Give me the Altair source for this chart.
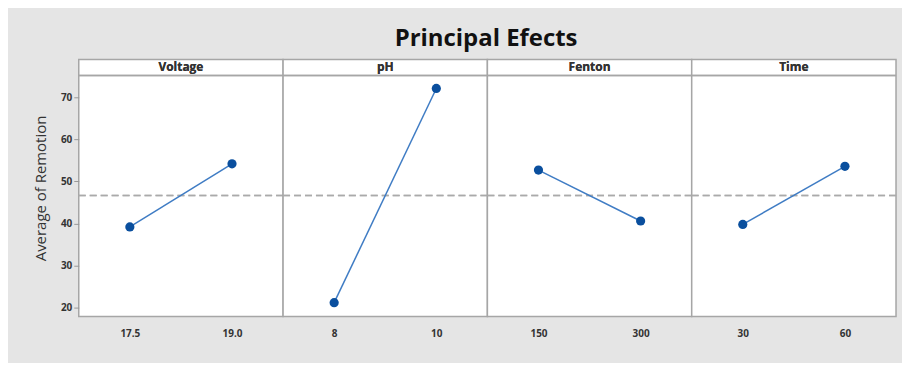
import altair as alt
import pandas as pd

factors = ["Voltage", "pH", "Fenton", "Time"]
levels = [["17.5", "19.0"], ["8", "10"], ["150", "300"], ["30", "60"]]
means = [[39.2, 54.2], [21.2, 72.1], [52.7, 40.6], [39.8, 53.6]]
grand_mean = 46.65
y_domain = [17.9, 79.0]
y_ticks = [20, 30, 40, 50, 60, 70]
header_line = 75.2
header_mid = 77.1

FONT = "Open Sans"
PW, PH = 205, 258

yaxis = alt.Axis(values=y_ticks, domain=False, grid=False, tickSize=5,
                 tickColor="#999999", labelFont=FONT, labelFontSize=10,
                 labelFontWeight="bold", labelColor="#333333",
                 labelPadding=2, titleFont=FONT, titleFontSize=15,
                 titleFontWeight="normal", titleColor="#333333",
                 titlePadding=12, title="Average of Remotion")

panels = []
for i, (f, lv, mv) in enumerate(zip(factors, levels, means)):
    df = pd.DataFrame({"level": lv, "mean": mv, "factor": [f, f]})
    base = alt.Chart(df)
    x = alt.X("level:N", sort=lv, scale=alt.Scale(type="point", padding=0.5),
              title=None,
              axis=alt.Axis(labelAngle=0, domain=False, ticks=False, labelPadding=12,
                            labelFont=FONT, labelFontSize=10, labelFontWeight="bold",
                            labelColor="#333333"))
    yscale = alt.Scale(domain=y_domain, nice=False, zero=False)
    ax = yaxis if i == 0 else None

    def ych(field):
        return alt.Y(field, scale=yscale, axis=ax, title="Average of Remotion")

    mean_rule = base.mark_rule(color="#aaaaaa", strokeDash=[7, 4], strokeWidth=1.5).encode(
        y=ych("gm:Q")).transform_calculate(gm=str(grand_mean))
    line = base.mark_line(color="#3f7cc4", strokeWidth=1.5).encode(x=x, y=ych("mean:Q"))
    pts = base.mark_circle(color="#0a4f9e", size=85, opacity=1).encode(
        x=x, y=ych("mean:Q"))
    head_rule = base.mark_rule(color="#a6a6a6", strokeWidth=1.5).encode(
        y=ych("hl:Q")).transform_calculate(hl=str(header_line))
    head_text = base.mark_text(font=FONT, fontSize=12, fontWeight="bold", color="#333333",
                               baseline="middle").encode(
        text="factor:N", y=ych("hm:Q")).transform_calculate(hm=str(header_mid))
    panel = alt.layer(mean_rule, line, pts, head_rule, head_text).properties(
        width=PW, height=PH)
    panels.append(panel)

chart = alt.hconcat(*panels, spacing=0, bounds="flush").properties(
    title=alt.TitleParams("Principal Efects", font=FONT, fontSize=24, fontWeight="bold",
                          color="#111111", anchor="middle", offset=8, dx=21),
    padding={"left": 24, "top": 18, "right": 4, "bottom": 23},
    background="#e5e5e5",
).configure_view(stroke="#a6a6a6", strokeWidth=1.5, fill="white")

chart.save("out.html", embed_options={"renderer": "svg", "actions": False})
